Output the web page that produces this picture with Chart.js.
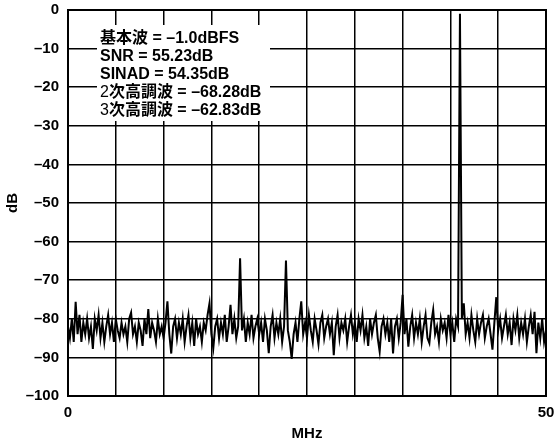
<!DOCTYPE html>
<html>
<head>
<meta charset="utf-8">
<script src="https://cdn.jsdelivr.net/npm/chart.js@4.4.1/dist/chart.umd.min.js"></script>
<style>
  body { margin: 0; background: #fff; }
</style>
</head>
<body>
<canvas id="fft" width="560" height="445"></canvas>
<script>
// FFT bins, 0.2 MHz apart, 0..50 MHz
const binStep = 0.2;
const levels = [
  -82, -85, -80, -86, -75.6, -84, -79, -86, -81, -84,
  -80, -85, -82, -87.8, -80, -83, -79, -85, -81, -86,
  -82, -79, -84, -81, -86, -80, -83, -85, -81, -84,
  -82, -86, -80, -78.4, -84, -82, -86, -81, -83, -87,
  -80, -84, -77.5, -85, -81, -83, -86, -80, -84, -82,
  -85, -81, -75.5, -84, -89, -82, -80, -85, -81, -84,
  -80, -86, -82, -79, -85, -81, -87, -80, -84, -82,
  -86, -81, -83, -79, -76, -84, -87.6, -82, -80, -85,
  -81, -84, -79, -86, -82, -76.4, -84, -80, -85, -82,
  -64.3, -83, -80, -86, -81, -84, -79, -85, -82, -80,
  -84, -81, -86, -80, -83, -88.9, -82, -79, -85, -81,
  -84, -80, -86, -82, -64.9, -83, -86, -90.4, -84, -81,
  -86, -80, -75.5, -84, -81, -85, -79, -83, -86, -80,
  -83, -86.6, -81, -79, -85, -82, -80, -84, -81, -89.4,
  -82, -79, -85, -81, -83, -80, -86, -82, -79, -84,
  -81, -86, -80, -83, -79, -85, -82, -87, -80, -84,
  -81, -79, -85, -88.5, -82, -80, -84, -81, -86, -80,
  -89, -82, -80, -85, -81, -73.8, -84, -80, -87.2, -82,
  -79, -85, -81, -84, -80, -86, -82, -79, -85, -86.3,
  -81, -77.7, -84, -82, -86, -80, -83, -81, -85, -79,
  -84, -81, -86, -80, -82, -1, -80, -76, -84, -81,
  -85, -79, -83, -86, -80, -84, -81, -79, -85, -82,
  -80, -84, -88, -81, -74.4, -83, -80, -85, -82, -79,
  -84, -81, -86.8, -80, -83, -79, -85, -81, -84, -80,
  -86, -82, -79, -84, -78.2, -88.9, -81, -85, -80, -86,
  -83
];
const xTickLabels = [0, 50];
const noteLines = [
  '基本波 = –1.0dBFS',
  'SNR = 55.23dB',
  'SINAD = 54.35dB',
  '2次高調波 = –68.28dB',
  '3次高調波 = –62.83dB'
];

const FONT = 'Liberation Sans, Arial, "Noto Sans CJK JP", sans-serif';

const points = levels.map((v, i) => ({ x: i * binStep, y: v }));

// white box with the measurement text, plus heavy frame
const notesPlugin = {
  id: 'notes',
  afterDatasetsDraw(chart) {
    const ctx = chart.ctx;
    const a = chart.chartArea;
    ctx.save();
    ctx.fillStyle = '#fff';
    ctx.fillRect(97, 25, 173, 96);
    ctx.fillStyle = '#000';
    ctx.textBaseline = 'middle';
    noteLines.forEach((line, i) => {
      const y = 39 + i * 18;
      let x = 100;
      let rest = line;
      if (/^\d/.test(line)) {
        ctx.font = '16px ' + FONT;
        ctx.fillText(line[0], x, y);
        x += ctx.measureText(line[0]).width;
        rest = line.slice(1);
      }
      ctx.font = 'bold 16px ' + FONT;
      ctx.fillText(rest, x, y);
    });
    ctx.strokeStyle = '#000';
    ctx.lineWidth = 2;
    ctx.strokeRect(a.left, a.top, a.right - a.left, a.bottom - a.top);
    ctx.restore();
  }
};

new Chart(document.getElementById('fft'), {
  type: 'line',
  data: {
    datasets: [{
      data: points,
      borderColor: '#000',
      borderWidth: 2,
      pointRadius: 0,
      tension: 0
    }]
  },
  options: {
    responsive: false,
    animation: false,
    layout: { padding: { top: 10, right: 14, left: 0, bottom: 0 } },
    plugins: { legend: { display: false }, tooltip: { enabled: false } },
    scales: {
      x: {
        type: 'linear',
        min: 0,
        max: 50,
        afterFit: s => { s.height = 49; s.paddingLeft = 0; s.paddingRight = 0; },
        ticks: {
          stepSize: 5,
          autoSkip: false,
          maxRotation: 0,
          padding: 8,
          color: '#000',
          font: { family: FONT, size: 15, weight: 'bold' },
          callback: v => xTickLabels.includes(v) ? String(v) : ''
        },
        grid: { color: '#000', lineWidth: 1.5, drawTicks: false },
        border: { color: '#000', width: 2 },
        title: {
          display: true,
          text: 'MHz',
          color: '#000',
          font: { family: FONT, size: 15, weight: 'bold' },
          padding: { top: 0, bottom: 2 }
        }
      },
      y: {
        min: -100,
        max: 0,
        afterFit: s => { s.width = 68; s.paddingTop = 0; s.paddingBottom = 0; },
        ticks: {
          stepSize: 10,
          padding: 9,
          color: '#000',
          font: { family: FONT, size: 15, weight: 'bold' },
          callback: v => v === 0 ? '0' : '–' + Math.abs(v)
        },
        grid: { color: '#000', lineWidth: 1.5, drawTicks: false },
        border: { color: '#000', width: 2 },
        title: {
          display: true,
          text: 'dB',
          color: '#000',
          font: { family: FONT, size: 15, weight: 'bold' },
          padding: { top: 4, bottom: 0 }
        }
      }
    }
  },
  plugins: [notesPlugin]
});
</script>
</body>
</html>
